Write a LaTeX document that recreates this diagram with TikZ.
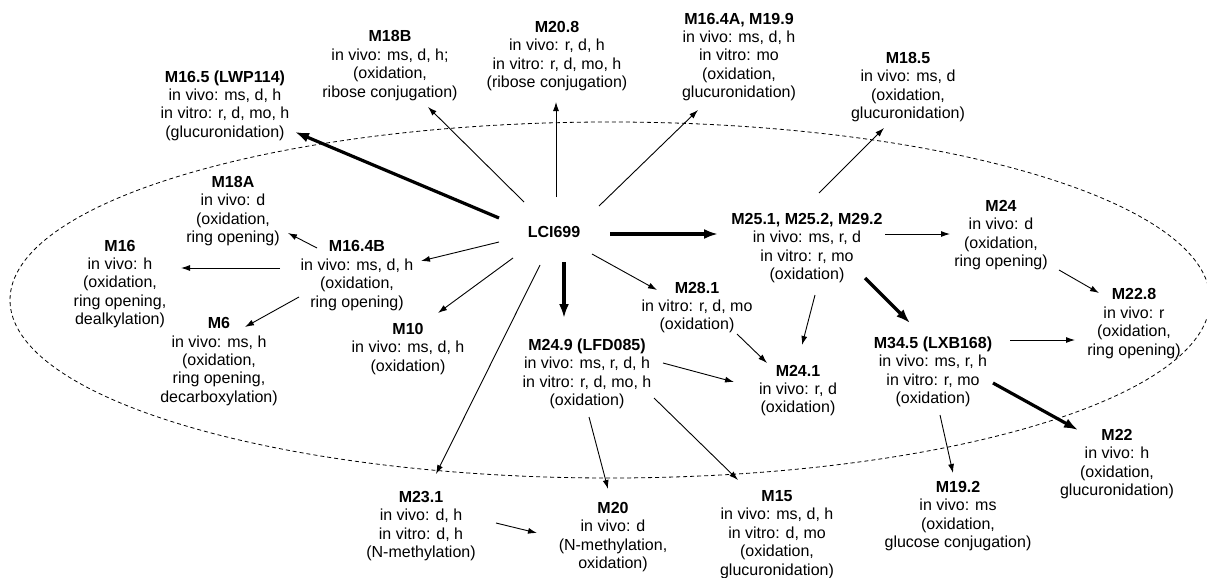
\documentclass[tikz,border=0pt]{standalone}
\usepackage{fontspec}
\setmainfont{Liberation Sans}
\usetikzlibrary{arrows.meta,calc}
\begin{document}
\begin{tikzpicture}[x=1pt,y=-1pt,
  lbl/.style={align=center, inner sep=0pt, font=\fontsize{16}{18.4}\selectfont},
  thinarr/.style={line width=0.9pt, -{Latex[length=9pt,width=6pt]}},
  thickarr/.style={line width=3.2pt, -{Latex[length=14pt,width=10pt]}},
  orbit/.style={line width=0.8pt, dash pattern=on 4pt off 3pt}]
\useasboundingbox (0,0) rectangle (1207,578);
\fill[white] (0,0) rectangle (1207,578);
\draw[orbit] (610,300) ellipse [x radius=600pt, y radius=178pt];

\node[lbl] (lci) at (554,232) {\textbf{LCI699}};
\node[lbl] (m165) at (225,105.5) {\textbf{M16.5 (LWP114)}\\in vivo: ms, d, h\\in vitro: r, d, mo, h\\(glucuronidation)};
\node[lbl] (m18b) at (390,65.5) {\textbf{M18B}\\in vivo: ms, d, h;\\(oxidation,\\ribose conjugation)};
\node[lbl] (m208) at (557,56) {\textbf{M20.8}\\in vivo: r, d, h\\in vitro: r, d, mo, h\\(ribose conjugation)};
\node[lbl] (m164a) at (739,57) {\textbf{M16.4A, M19.9}\\in vivo: ms, d, h\\in vitro: mo\\(oxidation,\\glucuronidation)};
\node[lbl] (m185) at (908,87) {\textbf{M18.5}\\in vivo: ms, d\\(oxidation,\\glucuronidation)};
\node[lbl] (m18a) at (233,211) {\textbf{M18A}\\in vivo: d\\(oxidation,\\ring opening)};
\node[lbl] (m16) at (120,284) {\textbf{M16}\\in vivo: h\\(oxidation,\\ring opening,\\dealkylation)};
\node[lbl] (m164b) at (357,275.5) {\textbf{M16.4B}\\in vivo: ms, d, h\\(oxidation,\\ring opening)};
\node[lbl] (m6) at (219,361.5) {\textbf{M6}\\in vivo: ms, h\\(oxidation,\\ring opening,\\decarboxylation)};
\node[lbl] (m10) at (408,349) {\textbf{M10}\\in vivo: ms, d, h\\(oxidation)};
\node[lbl] (m25) at (807,248) {\textbf{M25.1, M25.2, M29.2}\\in vivo: ms, r, d\\in vitro: r, mo\\(oxidation)};
\node[lbl] (m24) at (1001,235) {\textbf{M24}\\in vivo: d\\(oxidation,\\ring opening)};
\node[lbl] (m228) at (1134,323.5) {\textbf{M22.8}\\in vivo: r\\(oxidation,\\ring opening)};
\node[lbl] (m281) at (697,307.5) {\textbf{M28.1}\\in vitro: r, d, mo\\(oxidation)};
\node[lbl] (m249) at (587,374) {\textbf{M24.9 (LFD085)}\\in vivo: ms, r, d, h\\in vitro: r, d, mo, h\\(oxidation)};
\node[lbl] (m241) at (798,390.5) {\textbf{M24.1}\\in vivo: r, d\\(oxidation)};
\node[lbl] (m345) at (933,372) {\textbf{M34.5 (LXB168)}\\in vivo: ms, r, h\\in vitro: r, mo\\(oxidation)};
\node[lbl] (m22) at (1117,464) {\textbf{M22}\\in vivo: h\\(oxidation,\\glucuronidation)};
\node[lbl] (m192) at (958,516) {\textbf{M19.2}\\in vivo: ms\\(oxidation,\\glucose conjugation)};
\node[lbl] (m15) at (777,534.5) {\textbf{M15}\\in vivo: ms, d, h\\in vitro: d, mo\\(oxidation,\\glucuronidation)};
\node[lbl] (m20) at (613,537) {\textbf{M20}\\in vivo: d\\(N-methylation,\\oxidation)};
\node[lbl] (m231) at (421,526) {\textbf{M23.1}\\in vivo: d, h\\in vitro: d, h\\(N-methylation)};

\draw[thickarr] ($(lci)+(-55,-14)$) -- ($(m165)+(70,26.5)$);
\draw[thinarr] ($(lci)+(-30,-30)$) -- ($(m18b)+(38,41.5)$);
\draw[thinarr] ($(lci)+(2,-35)$) -- ($(m208)+(-1,46)$);
\draw[thinarr] ($(lci)+(45,-26)$) -- ($(m164a)+(-41,53)$);
\draw[thickarr] ($(lci)+(56,2)$) -- ($(m25)+(-89,-14)$);
\draw[thinarr] ($(lci)+(38,22)$) -- ($(m281)+(-40,-17.5)$);
\draw[thickarr] ($(lci)+(10,30)$) -- ($(m249)+(-23,-56)$);
\draw[thinarr] ($(lci)+(-14,33)$) -- ($(m231)+(15,-52)$);
\draw[thinarr] ($(lci)+(-41,26)$) -- ($(m10)+(30,-36)$);
\draw[thinarr] ($(lci)+(-55,10)$) -- ($(m164b)+(64,-14.5)$);
\draw[thinarr] ($(m164b)+(-40,-27.5)$) -- ($(m18a)+(55,22)$);
\draw[thinarr] ($(m164b)+(-77,-7.5)$) -- ($(m16)+(61,-16)$);
\draw[thinarr] ($(m164b)+(-58,21.5)$) -- ($(m6)+(26,-34.5)$);
\draw[thinarr] ($(m25)+(12,-55)$) -- ($(m185)+(-24,41)$);
\draw[thinarr] ($(m25)+(78,-14)$) -- ($(m24)+(-51,-1)$);
\draw[thinarr] ($(m24)+(58,35)$) -- ($(m228)+(-35,-30.5)$);
\draw[thickarr] ($(m25)+(58,30)$) -- ($(m345)+(-23,-49)$);
\draw[thinarr] ($(m25)+(8,47)$) -- ($(m241)+(4,-45.5)$);
\draw[thinarr] ($(m281)+(40,26.5)$) -- ($(m241)+(-31,-27.5)$);
\draw[thinarr] ($(m249)+(76,-11)$) -- ($(m241)+(-64,-8.5)$);
\draw[thinarr] ($(m249)+(2,43)$) -- ($(m20)+(-5,-48)$);
\draw[thinarr] ($(m249)+(67,24)$) -- ($(m15)+(-39,-54.5)$);
\draw[thinarr] ($(m231)+(75,-3)$) -- ($(m20)+(-76,-4)$);
\draw[thinarr] ($(m345)+(77,-32)$) -- ($(m228)+(-59,16.5)$);
\draw[thickarr] ($(m345)+(60,11)$) -- ($(m22)+(-39,-34)$);
\draw[thinarr] ($(m345)+(7,43)$) -- ($(m192)+(-5,-43)$);
\end{tikzpicture}
\end{document}
